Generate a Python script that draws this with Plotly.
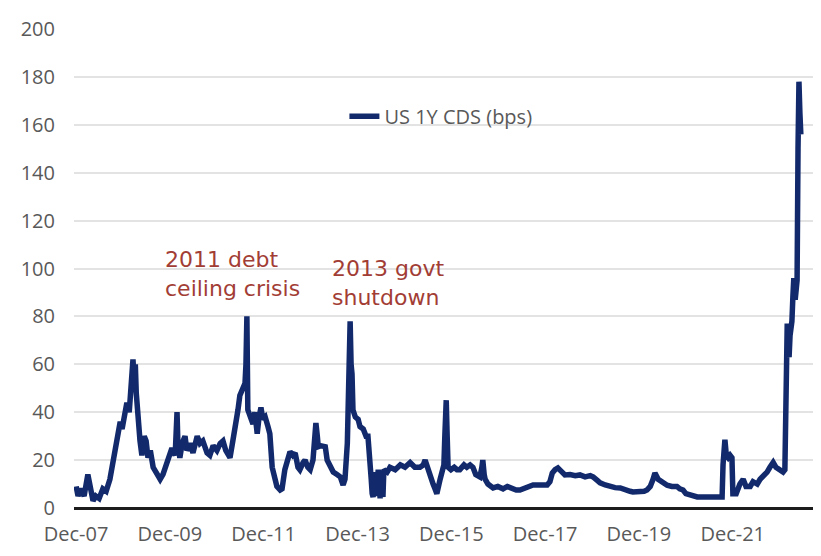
import pandas as pd
import plotly.graph_objects as go

years = [
    2007.92, 2007.96, 2008.02, 2008.09, 2008.17, 2008.22, 2008.28, 2008.34, 2008.41, 2008.49,
    2008.56, 2008.64, 2008.71, 2008.77, 2008.81, 2008.86, 2008.90, 2008.96, 2009.00, 2009.05,
    2009.09, 2009.13, 2009.15, 2009.18, 2009.20, 2009.24, 2009.28, 2009.32, 2009.37, 2009.41,
    2009.45, 2009.50, 2009.56, 2009.62, 2009.71, 2009.77, 2009.86, 2009.92, 2009.96, 2010.03,
    2010.07, 2010.09, 2010.13, 2010.18, 2010.24, 2010.28, 2010.35, 2010.41, 2010.50, 2010.56,
    2010.62, 2010.71, 2010.77, 2010.84, 2010.92, 2010.99, 2011.05, 2011.11, 2011.20, 2011.26,
    2011.31, 2011.37, 2011.41, 2011.46, 2011.52, 2011.54, 2011.56, 2011.58, 2011.63, 2011.69,
    2011.73, 2011.78, 2011.82, 2011.86, 2011.90, 2011.95, 2012.01, 2012.05, 2012.10, 2012.16,
    2012.20, 2012.27, 2012.31, 2012.37, 2012.44, 2012.48, 2012.54, 2012.59, 2012.65, 2012.69,
    2012.76, 2012.80, 2012.86, 2012.91, 2012.97, 2013.01, 2013.03, 2013.06, 2013.08, 2013.14,
    2013.23, 2013.27, 2013.33, 2013.40, 2013.48, 2013.55, 2013.61, 2013.65, 2013.70, 2013.72,
    2013.76, 2013.78, 2013.80, 2013.82, 2013.87, 2013.93, 2013.97, 2014.04, 2014.10, 2014.14,
    2014.19, 2014.21, 2014.23, 2014.25, 2014.29, 2014.31, 2014.36, 2014.40, 2014.42, 2014.46,
    2014.48, 2014.55, 2014.61, 2014.72, 2014.83, 2014.93, 2015.04, 2015.14, 2015.25, 2015.32,
    2015.36, 2015.42, 2015.46, 2015.53, 2015.57, 2015.61, 2015.68, 2015.72, 2015.76, 2015.78,
    2015.81, 2015.83, 2015.85, 2015.91, 2015.98, 2016.04, 2016.10, 2016.19, 2016.25, 2016.32,
    2016.38, 2016.44, 2016.53, 2016.57, 2016.59, 2016.62, 2016.64, 2016.70, 2016.81, 2016.91,
    2017.02, 2017.11, 2017.21, 2017.30, 2017.38, 2017.49, 2017.60, 2017.66, 2017.81, 2017.96,
    2018.02, 2018.07, 2018.13, 2018.19, 2018.28, 2018.34, 2018.45, 2018.56, 2018.66, 2018.77,
    2018.88, 2018.94, 2019.03, 2019.09, 2019.20, 2019.30, 2019.41, 2019.52, 2019.62, 2019.73,
    2019.79, 2019.90, 2020.03, 2020.09, 2020.16, 2020.22, 2020.26, 2020.33, 2020.39, 2020.43,
    2020.52, 2020.62, 2020.73, 2020.79, 2020.86, 2020.92, 2021.01, 2021.16, 2021.33, 2021.50,
    2021.60, 2021.69, 2021.71, 2021.75, 2021.78, 2021.82, 2021.86, 2021.90, 2021.92, 2021.99,
    2022.07, 2022.14, 2022.20, 2022.29, 2022.35, 2022.44, 2022.50, 2022.56, 2022.65, 2022.71,
    2022.76, 2022.78, 2022.84, 2022.93, 2022.99, 2023.03, 2023.05, 2023.08, 2023.10, 2023.12,
    2023.14, 2023.18, 2023.20, 2023.22, 2023.25, 2023.27, 2023.29, 2023.31, 2023.33, 2023.35,
    2023.37,
]

cds_bps = [
    9, 5, 8, 5, 14, 10, 3, 5, 4, 8,
    7, 12, 19, 25, 30, 36, 33, 42, 44, 40,
    52, 62, 55, 60, 48, 36, 28, 22, 30, 28,
    21, 24, 17, 15, 12, 14, 20, 24, 25, 22,
    40, 26, 21, 27, 30, 24, 27, 23, 30, 27,
    28, 23, 22, 26, 24, 27, 28, 24, 21, 28,
    33, 41, 47, 49, 52, 60, 80, 41, 38, 35,
    40, 31, 38, 42, 37, 38, 34, 31, 17, 12,
    9, 7.5, 8, 16, 22, 23.5, 22, 23, 17, 16,
    19, 20, 17, 16, 20, 28, 35.5, 30, 25.6, 26,
    25.6, 20, 17, 15, 14, 13, 9.6, 12, 27, 56,
    78, 60, 56, 41, 38, 37, 34, 33, 30, 30,
    20, 12, 6, 4.6, 15, 5, 16, 4, 15, 4.6,
    16, 15, 17, 16, 18, 17, 19, 17, 17, 18,
    20, 16, 13, 10, 8, 6, 12, 16, 18, 30,
    45, 30, 17, 16, 17, 16, 16, 18, 17, 18,
    17, 14, 13, 17, 20, 14, 12, 10, 8.4, 9,
    8, 9, 8, 7.5, 7.5, 8.5, 9, 9.6, 9.6, 9.6,
    11, 14.6, 16, 16.7, 15, 13.8, 14, 13.5, 13.8, 13,
    13.5, 13, 11.5, 10.5, 9.6, 9, 8.5, 8.4, 7.5, 7,
    6.7, 6.7, 7, 7.5, 9, 12, 14.6, 12, 11, 10.5,
    9.5, 9, 9, 8, 7.5, 6, 5.5, 4.6, 4.6, 4.6,
    5, 4.6, 18, 28.5, 22, 21, 22, 21, 6, 6,
    10, 12, 9, 9, 11, 10, 12, 13, 15, 17,
    18, 19, 17, 16, 15, 16, 60, 77, 66, 63,
    72, 78, 88, 96, 87, 93, 95, 150, 178, 165,
    156,
]

tick_years = [2007.917, 2009.917, 2011.917, 2013.917, 2015.917, 2017.917, 2019.917, 2021.917]
tick_labels = ["Dec-07", "Dec-09", "Dec-11", "Dec-13", "Dec-15", "Dec-17", "Dec-19", "Dec-21"]
y_ticks = [0, 20, 40, 60, 80, 100, 120, 140, 160, 180, 200]
x_range_years = [2007.874, 2023.80]

series_name = "US 1Y CDS (bps)"
notes = [
    {"text": "2011 debt<br>ceiling crisis", "year": 2009.77, "value": 110},
    {"text": "2013 govt<br>shutdown", "year": 2013.33, "value": 106},
]


def to_date(y):
    base = int(y)
    return pd.Timestamp(base, 1, 1) + pd.Timedelta(days=(y - base) * 365.25)


dates = [to_date(y) for y in years]

fig = go.Figure()
fig.add_trace(go.Scatter(
    x=dates, y=cds_bps, mode="lines", name=series_name,
    line=dict(color="#122a6c", width=5.5),
))

for n in notes:
    fig.add_annotation(
        x=to_date(n["year"]), y=n["value"], xref="x", yref="y",
        text=n["text"], showarrow=False, xanchor="left", yanchor="top", align="left",
        font=dict(family="DejaVu Sans", size=22, color="#a23d35"),
    )

fig.update_layout(
    width=813, height=548,
    margin=dict(l=66, r=0, t=21, b=48),
    paper_bgcolor="white", plot_bgcolor="white",
    showlegend=True,
    legend=dict(
        x=0.362, y=0.818, xanchor="left", yanchor="middle",
        bgcolor="rgba(0,0,0,0)",
        font=dict(family="Open Sans", size=20, color="#595959"),
    ),
    xaxis=dict(
        range=[to_date(x_range_years[0]), to_date(x_range_years[1])],
        tickvals=[to_date(t) for t in tick_years], ticktext=tick_labels,
        showgrid=False, zeroline=False, showline=False,
        tickfont=dict(family="Open Sans", size=20, color="#595959"),
        ticks="", ticklabelstandoff=12,
    ),
    yaxis=dict(
        range=[0, 200], tickvals=y_ticks,
        showgrid=True, gridcolor="#e3e3e3", gridwidth=1.5,
        zeroline=True, zerolinecolor="#1c1c1c", zerolinewidth=2.5,
        showline=False, ticks="", ticklabelstandoff=18,
        tickfont=dict(family="Open Sans", size=20, color="#595959"),
    ),
)

fig.write_html("out.html")
